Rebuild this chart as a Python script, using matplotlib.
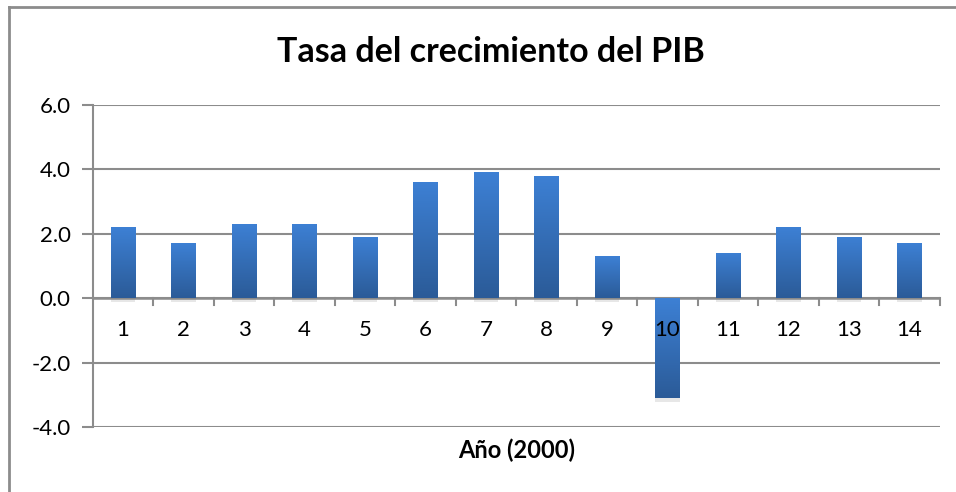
import numpy as np
import matplotlib.pyplot as plt
from matplotlib import patheffects
from matplotlib.colors import LinearSegmentedColormap
from matplotlib.lines import Line2D

categorias = [str(i) for i in range(1, 15)]
crecimiento = [2.2, 1.7, 2.3, 2.3, 1.9, 3.6, 3.9, 3.8, 1.3, -3.1, 1.4, 2.2, 1.9, 1.7]
yticks = [-4.0, -2.0, 0.0, 2.0, 4.0, 6.0]

plt.rcParams['font.family'] = ['Lato', 'DejaVu Sans']
gris = '#8c8c8c'

fig = plt.figure(figsize=(9.56, 4.92), dpi=100)
ax = fig.add_axes([0.097, 0.132, 0.886, 0.655])

x = np.arange(len(categorias))
barras = ax.bar(x, crecimiento, width=0.41, color='#3473c0', zorder=3,
                path_effects=[patheffects.SimplePatchShadow(offset=(0, -3), shadow_rgbFace='#888888', alpha=0.2),
                              patheffects.Normal()])

# degradado vertical dentro de cada barra
cmap = LinearSegmentedColormap.from_list('azul', ['#3d80d4', '#2b5b98'])
grad = np.linspace(0, 1, 100).reshape(-1, 1)
for b in barras:
    x0, y0 = b.get_x(), b.get_y()
    w, h = b.get_width(), b.get_height()
    top, bot = max(y0, y0 + h), min(y0, y0 + h)
    im = ax.imshow(grad, cmap=cmap, aspect='auto', extent=(x0, x0 + w, bot, top),
                   origin='upper', zorder=4)
    im.set_clip_path(b)

ax.set_xlim(-0.5, len(categorias) - 0.5)
ax.set_ylim(-4, 6)
ax.set_yticks(yticks)
ax.set_yticklabels([f'{v:.1f}' for v in yticks], fontsize=16)
ax.yaxis.grid(True, color=gris, linewidth=1.5, zorder=1)
ax.tick_params(axis='y', length=8, width=1.5, color=gris, pad=8)

# eje de categorías en y = 0
ax.spines['top'].set_visible(False)
ax.spines['right'].set_visible(False)
ax.spines['bottom'].set_visible(False)
ax.spines['left'].set_color(gris)
ax.spines['left'].set_linewidth(1.5)
ax.set_xticks([])
ax.axhline(0, color=gris, linewidth=1.8, zorder=2)
for b in np.arange(0.5, len(categorias), 1.0):
    ax.plot([b, b], [0, -0.22], color=gris, linewidth=1.5, zorder=2, clip_on=False)
for xi, lab in zip(x, categorias):
    ax.text(xi, -1.0, lab, ha='center', va='center', fontsize=16, zorder=5)

ax.text(0.5, -0.071, 'Año (2000)', transform=ax.transAxes, ha='center', va='center',
        fontsize=17, fontweight='bold')
fig.suptitle('Tasa del crecimiento del PIB', fontsize=24.5, fontweight='bold',
             x=0.513, y=0.895, va='center')

# marco del gráfico
fig.add_artist(Line2D([8.5 / 956, 1], [1 - 6.5 / 492] * 2, color=gris, linewidth=2))
fig.add_artist(Line2D([8.5 / 956] * 2, [0, 1 - 6.5 / 492], color=gris, linewidth=2))

fig.savefig('out.png', dpi=100)
